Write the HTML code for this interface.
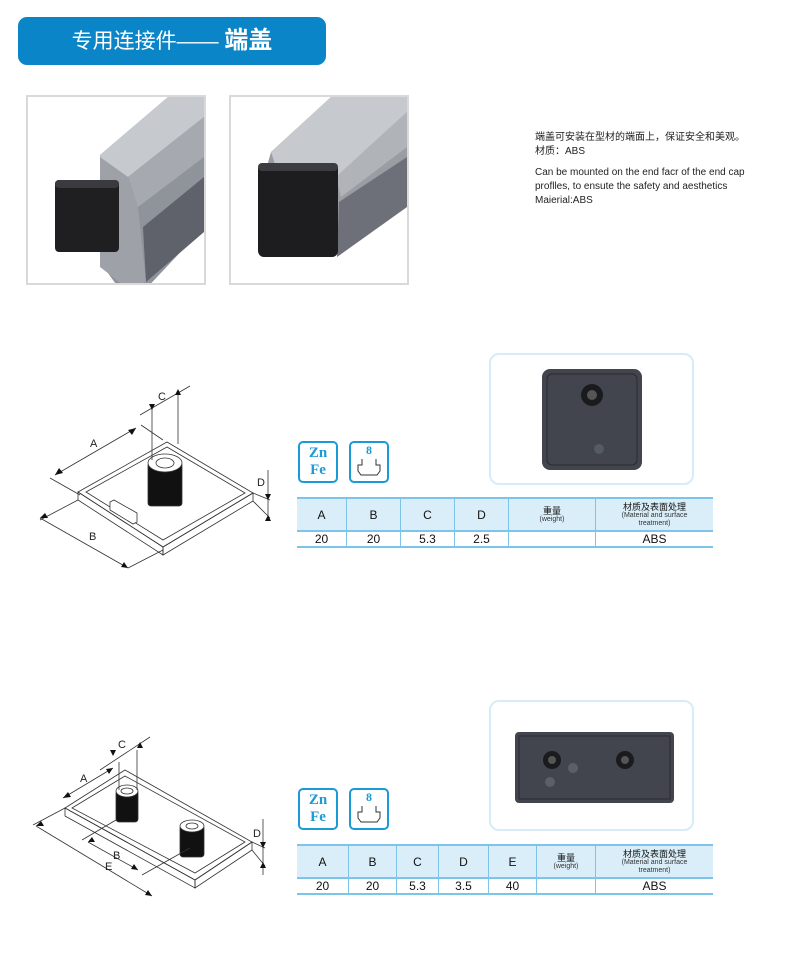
<!DOCTYPE html>
<html><head><meta charset="utf-8"><style>
body{margin:0;background:#fff;width:800px;height:956px;position:relative;overflow:hidden;font-family:"Liberation Sans","Noto Sans CJK SC",sans-serif}
.abs{position:absolute}
.hdr{left:18px;top:17px;width:308px;height:48px;background:#0a86c8;border-radius:9px;color:#fff;font-size:21px;line-height:48px;text-align:center;font-family:"Liberation Sans","Noto Sans CJK SC",sans-serif}
.pbox{border:2px solid #d9d9d9;background:#fff;overflow:hidden}
.cbox{border:2px solid #d6ecf8;border-radius:10px;background:#fff}
table{border-collapse:collapse;position:absolute;font-size:12px;color:#111}
td{border-right:1px solid #7cc4e8;text-align:center;padding:0}
td:last-child{border-right:none}
tr.h td{background:#daeef9;height:31px;border-top:2px solid #7cc4e8;border-bottom:2px solid #7cc4e8}
tr.r td{height:14px;border-bottom:2px solid #7cc4e8}
.s{font-size:7px;line-height:8px;color:#333;display:block}
.cn{font-size:9px;line-height:10px;display:block}
.ico{border:2px solid #1a9ad6;border-radius:5px;width:36px;height:38px;color:#1a9ad6;font-family:"Liberation Serif",serif;font-weight:bold;text-align:center}
</style></head><body>
<div class="abs hdr">专用连接件——&nbsp;<b style="font-size:24px">端盖</b></div>

<div class="abs pbox" style="left:26px;top:95px;width:176px;height:186px">
<svg width="176" height="186">
<polygon points="72,58 140,0 176,0 176,130 115,195 90,190 72,165" fill="#8f939a"/>
<polygon points="72,58 140,0 176,0 176,20 100,80 75,72" fill="#c6c9ce"/>
<polygon points="100,80 176,20 176,60 110,110" fill="#a6aab0"/>
<polygon points="115,130 176,80 176,135 118,185" fill="#5f626a"/>
<polygon points="72,60 100,80 110,110 118,185 98,190 72,170" fill="#9ea2a8"/>
<rect x="27" y="83" width="64" height="72" rx="4" fill="#1f1f22"/><rect x="27" y="83" width="64" height="8" rx="4" fill="#3a3a3f"/></svg></div>
<div class="abs pbox" style="left:229px;top:95px;width:176px;height:186px">
<svg width="176" height="186">
<polygon points="40,55 100,0 176,0 176,110 100,160 30,90" fill="#9a9ea4"/>
<polygon points="40,55 100,0 176,0 176,15 105,80 45,70" fill="#c6c9ce"/>
<polygon points="105,80 176,15 176,50 110,100" fill="#b0b4b9"/>
<polygon points="108,105 176,60 176,110 106,160" fill="#6d7078"/>
<rect x="27" y="66" width="80" height="94" rx="6" fill="#1d1d20"/><rect x="27" y="66" width="80" height="8" rx="4" fill="#3b3b40"/></svg></div>

<div class="abs" style="left:535px;top:131px;font-size:10px;line-height:14px;color:#222">端盖可安装在型材的端面上，保证安全和美观。<br>材质：ABS<div style="margin-top:7px">Can be mounted on the end facr of the end cap<br>proflles, to ensute the safety and aesthetics<br>Maierial:ABS</div></div>

<svg class="abs" style="left:0;top:0" width="300" height="956" fill="none" stroke="#333" stroke-width="0.8">
<polygon points="78,492 167,442 253,493 163,547" fill="#fff"/>
<polygon points="78,492 78,500 163,555 163,547"/><polygon points="163,547 163,555 253,501 253,493"/>
<polygon points="86,492 167,447 245,493 163,540"/>
<rect x="148" y="462" width="34" height="44" fill="#111" rx="3"/>
<ellipse cx="165" cy="463" rx="17" ry="9" fill="#fff"/><ellipse cx="165" cy="463" rx="9" ry="5"/>
<polygon points="110,502 114,500 137,513 137,522 133,524 110,510" fill="#fff"/>
<line x1="55" y1="475" x2="136" y2="428"/><line x1="50" y1="478" x2="80" y2="495"/><line x1="141" y1="425" x2="163" y2="440"/>
<line x1="40" y1="518" x2="128" y2="568"/><line x1="40" y1="520" x2="78" y2="500"/><line x1="128" y1="568" x2="163" y2="550"/>
<line x1="152" y1="407" x2="152" y2="460"/><line x1="178" y1="392" x2="178" y2="444"/><line x1="140" y1="415" x2="190" y2="386"/>
<line x1="268" y1="470" x2="268" y2="521"/><line x1="253" y1="493" x2="270" y2="500"/><line x1="253" y1="501" x2="270" y2="518"/>
<g fill="#111" stroke="none"><path d="M55,475l8,-2l-4,-5z"/><path d="M136,428l-8,2l4,5z"/><path d="M40,518l8,0l-3,-5z"/><path d="M128,568l-7,-1l3,-5z"/><path d="M152,410l-3,-6h6z"/><path d="M178,389l-3,6h6z"/><path d="M268,500l-3,-6h6z"/><path d="M268,515l-3,6h6z"/></g>
<g fill="#222" stroke="none" font-size="11" font-family="Liberation Sans"><text x="90" y="447">A</text><text x="89" y="540">B</text><text x="158" y="400">C</text><text x="257" y="486">D</text></g>

<polygon points="65,808 125,770 252,842 195,880" fill="#fff"/>
<polygon points="65,808 65,816 195,888 195,880"/><polygon points="195,880 195,888 252,850 252,842"/>
<polygon points="72,808 125,776 245,842 195,873"/>
<rect x="116" y="790" width="22" height="32" fill="#111" rx="3"/><ellipse cx="127" cy="791" rx="11" ry="6" fill="#fff"/><ellipse cx="127" cy="791" rx="6" ry="3"/>
<rect x="180" y="825" width="24" height="32" fill="#111" rx="3"/><ellipse cx="192" cy="826" rx="12" ry="6" fill="#fff"/><ellipse cx="192" cy="826" rx="6" ry="3"/>
<line x1="63" y1="798" x2="113" y2="768"/><line x1="100" y1="770" x2="150" y2="737"/><line x1="119" y1="762" x2="119" y2="790"/><line x1="137" y1="750" x2="137" y2="790"/>
<line x1="36" y1="826" x2="152" y2="896"/><line x1="33" y1="825" x2="65" y2="808"/>
<line x1="88" y1="842" x2="138" y2="870"/><line x1="82" y1="840" x2="116" y2="820"/><line x1="142" y1="875" x2="190" y2="848"/>
<line x1="263" y1="819" x2="263" y2="875"/><line x1="252" y1="842" x2="265" y2="848"/><line x1="252" y1="850" x2="265" y2="866"/>
<g fill="#111" stroke="none"><path d="M63,798l8,-1l-3,-5z"/><path d="M113,768l-7,1l3,5z"/><path d="M113,756l-3,-6h6z"/><path d="M140,742l-3,6h6z"/><path d="M36,826l8,0l-3,-5z"/><path d="M152,896l-7,-1l3,-5z"/><path d="M88,842l7,0l-3,-5z"/><path d="M138,870l-7,-1l3,-5z"/><path d="M263,848l-3,-6h6z"/><path d="M263,862l-3,6h6z"/></g>
<g fill="#222" stroke="none" font-size="11" font-family="Liberation Sans"><text x="80" y="782">A</text><text x="113" y="859">B</text><text x="105" y="870">E</text><text x="118" y="748">C</text><text x="253" y="837">D</text></g>
</svg>

<div class="abs ico" style="left:298px;top:441px;font-size:15px;line-height:17px;padding-top:2px;height:36px">Zn<br>Fe</div>
<div class="abs ico" style="left:349px;top:441px;font-size:12px"><div style="line-height:14px">8</div><svg width="30" height="20"><path d="M8,2v6h-4v6l3,4h16l3,-4v-6h-4v-6" fill="none" stroke="#333"/></svg></div>
<div class="abs ico" style="left:298px;top:788px;font-size:15px;line-height:17px;padding-top:2px;height:36px">Zn<br>Fe</div>
<div class="abs ico" style="left:349px;top:788px;font-size:12px"><div style="line-height:14px">8</div><svg width="30" height="20"><path d="M8,2v6h-4v6l3,4h16l3,-4v-6h-4v-6" fill="none" stroke="#333"/></svg></div>

<div class="abs cbox" style="left:489px;top:353px;width:201px;height:128px">
<svg width="201" height="128"><rect x="51" y="14" width="100" height="101" rx="8" fill="#42454d"/><rect x="56" y="19" width="90" height="91" rx="5" fill="none" stroke="#2a2b30"/><circle cx="101" cy="40" r="11" fill="#1a1b1f"/><circle cx="101" cy="40" r="5" fill="#555"/><circle cx="108" cy="94" r="5" fill="#555b62"/></svg></div>
<div class="abs cbox" style="left:489px;top:700px;width:201px;height:127px">
<svg width="201" height="127"><rect x="24" y="30" width="159" height="71" rx="4" fill="#42454d"/><rect x="28" y="34" width="151" height="63" fill="none" stroke="#2a2b30"/><circle cx="61" cy="58" r="9" fill="#1a1b1f"/><circle cx="61" cy="58" r="4" fill="#555"/><circle cx="134" cy="58" r="9" fill="#1a1b1f"/><circle cx="134" cy="58" r="4" fill="#555"/><circle cx="82" cy="66" r="5" fill="#5b6066"/><circle cx="59" cy="80" r="5" fill="#5b6066"/></svg></div>

<table style="left:297px;top:497px;width:416px">
<tr class="h"><td style="width:49px">A</td><td style="width:53px">B</td><td style="width:53px">C</td><td style="width:53px">D</td><td style="width:86px"><span class="cn">重量</span><span class="s">(weight)</span></td><td><span class="cn">材质及表面处理</span><span class="s">(Material and surface<br>treatment)</span></td></tr>
<tr class="r"><td>20</td><td>20</td><td>5.3</td><td>2.5</td><td></td><td>ABS</td></tr></table>

<table style="left:297px;top:844px;width:416px">
<tr class="h"><td style="width:51px">A</td><td style="width:47px">B</td><td style="width:41px">C</td><td style="width:49px">D</td><td style="width:47px">E</td><td style="width:58px"><span class="cn">重量</span><span class="s">(weight)</span></td><td><span class="cn">材质及表面处理</span><span class="s">(Material and surface<br>treatment)</span></td></tr>
<tr class="r"><td>20</td><td>20</td><td>5.3</td><td>3.5</td><td>40</td><td></td><td>ABS</td></tr></table>
</body></html>
